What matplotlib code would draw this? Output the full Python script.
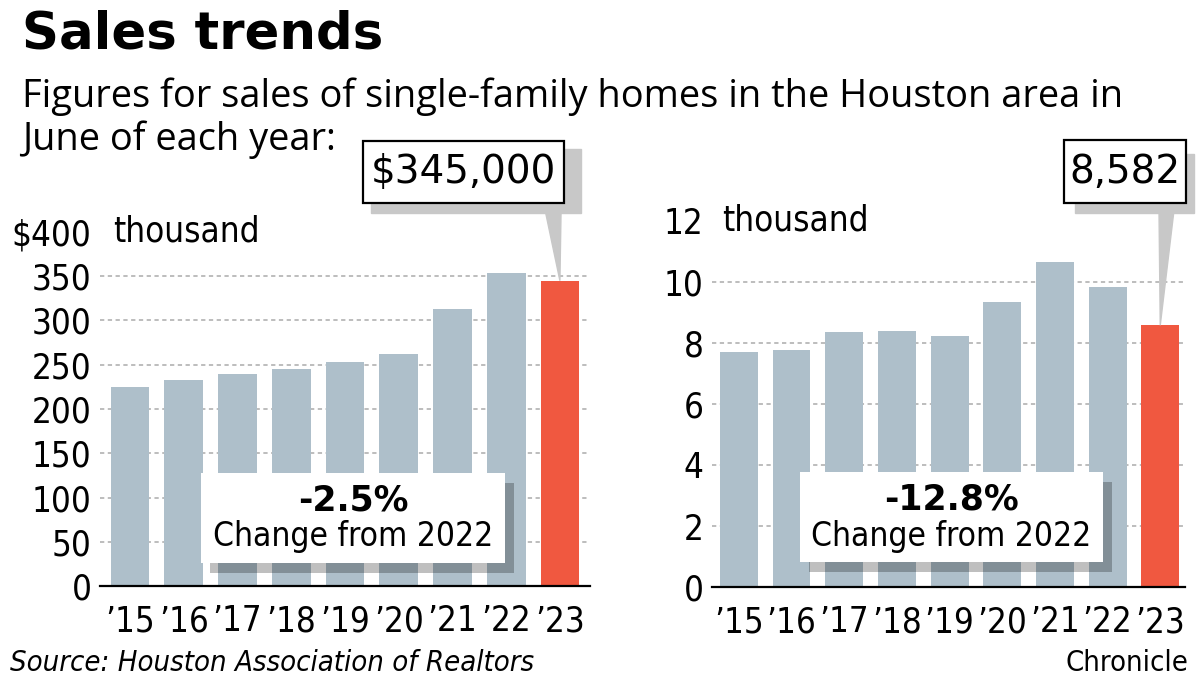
import matplotlib
matplotlib.use("Agg")
import matplotlib.pyplot as plt
import matplotlib.transforms as mtransforms
from matplotlib import font_manager
from matplotlib.patches import Rectangle, Polygon

# data
years = ["’15", "’16", "’17", "’18", "’19", "’20", "’21", "’22", "’23"]
prices = [225, 233, 239, 245, 253, 262, 313, 354, 345]          # $ thousand
sales = [7.70, 7.77, 8.36, 8.39, 8.23, 9.34, 10.66, 9.842, 8.582]  # thousand
price_ticks = [0, 50, 100, 150, 200, 250, 300, 350, 400]
price_labels = ["0", "50", "100", "150", "200", "250", "300", "350", "$400"]
sales_ticks = [0, 2, 4, 6, 8, 10, 12]
price_note = "$345,000"
sales_note = "8,582"
price_change = "-2.5%"
sales_change = "-12.8%"

GREY = "#aebfca"
RED = "#f05840"
SHADE = "#c8c8c8"

# narrow face for axis text (condensed DejaVu when no narrow family is around)
names = {f.name for f in font_manager.fontManager.ttflist}
NARROW = "Liberation Sans Narrow" if "Liberation Sans Narrow" in names else "DejaVu Sans"
COND = dict(family=NARROW, stretch="condensed")

fig = plt.figure(figsize=(12, 6.8), dpi=100)

# title and subtitle
fig.text(22 / 1200, 0.929, "Sales trends", family="DejaVu Sans", weight="bold",
         size=37, va="baseline")
fig.text(22 / 1200, 0.843, "Figures for sales of single-family homes in the Houston area in",
         family="Open Sans", size=27.4, va="baseline")
fig.text(22 / 1200, 0.779, "June of each year:", family="Open Sans", size=27.4,
         va="baseline")

fig.text(10 / 1200, 0.025, "Source: Houston Association of Realtors", style="italic",
         size=21, va="center", **COND)
fig.text(1188 / 1200, 0.025, "Chronicle", size=21, va="center", ha="right", **COND)


def panel(rect, values, ticks, labels, top, xlim, note, change, nbox, sbox, wedge, cbox,
          unit_x):
    ax = fig.add_axes(rect)
    x = range(len(values))
    colors = [GREY] * (len(values) - 1) + [RED]
    ax.bar(x, values, width=0.72, color=colors, zorder=2)
    ax.set_xlim(*xlim)
    ax.set_ylim(0, top)
    ax.set_yticks(ticks)
    ax.set_yticklabels(labels)
    ax.set_xticks(list(x))
    ax.set_xticklabels(years)
    for s in ["top", "right", "left"]:
        ax.spines[s].set_visible(False)
    ax.spines["bottom"].set_linewidth(1.6)
    ax.spines["bottom"].set_zorder(4)
    ax.tick_params(axis="both", length=0, labelsize=25)
    ax.tick_params(axis="x", pad=13)
    ax.tick_params(axis="y", pad=6)
    for lab in ax.get_xticklabels() + ax.get_yticklabels():
        lab.set_family(NARROW)
        lab.set_stretch("condensed")
    ax.grid(axis="y", color="#bdbdbd", linewidth=1.4, linestyle=(0, (2.2, 1.8)), zorder=1)
    ax.grid(axis="x", visible=False)
    ax.get_ygridlines()[0].set_visible(False)
    ax.get_ygridlines()[-1].set_visible(False)
    ax.set_facecolor("none")

    ax.text(unit_x, top, "thousand", transform=ax.get_yaxis_transform(), size=25,
            va="center", ha="left", **COND)

    # value callout: shadow, wedge to last bar, boxed label
    tip = ax.transLimits.transform((len(values) - 1, values[-1]))
    ax.add_patch(Rectangle((sbox[0], sbox[1]), sbox[2] - sbox[0], sbox[3] - sbox[1],
                           transform=ax.transAxes, color=SHADE, clip_on=False, zorder=5))
    ax.add_patch(Polygon([(wedge[0], sbox[1] + 0.01), (wedge[1], sbox[1] + 0.01), tip],
                         closed=True, transform=ax.transAxes, color=SHADE, clip_on=False,
                         zorder=5))
    ax.add_patch(Rectangle((nbox[0], nbox[1]), nbox[2] - nbox[0], nbox[3] - nbox[1],
                           transform=ax.transAxes, facecolor="white", edgecolor="black",
                           linewidth=1.6, clip_on=False, zorder=6))
    ax.text((nbox[0] + nbox[2]) / 2, (nbox[1] + nbox[3]) / 2, note, transform=ax.transAxes,
            family="DejaVu Sans", size=28, ha="center", va="center", zorder=7)

    # change box with translucent drop shadow
    off = ax.transAxes + mtransforms.ScaledTranslation(0.09, -0.10, fig.dpi_scale_trans)
    ax.add_patch(Rectangle((cbox[0], cbox[1]), cbox[2] - cbox[0], cbox[3] - cbox[1],
                           transform=off, facecolor="black", alpha=0.25, edgecolor="none",
                           clip_on=False, zorder=5))
    ax.add_patch(Rectangle((cbox[0], cbox[1]), cbox[2] - cbox[0], cbox[3] - cbox[1],
                           transform=ax.transAxes, facecolor="white", edgecolor="none",
                           clip_on=False, zorder=6))
    cx = (cbox[0] + cbox[2]) / 2
    h = cbox[3] - cbox[1]
    ax.text(cx, cbox[1] + h * 0.70, change, transform=ax.transAxes, family="DejaVu Sans",
            weight="bold", size=25, ha="center", va="center", zorder=7)
    ax.text(cx, cbox[1] + h * 0.29, "Change from 2022", transform=ax.transAxes, size=24,
            ha="center", va="center", zorder=7, **COND)
    return ax


panel([100 / 1200, 94 / 680, 490 / 1200, 354 / 680], prices, price_ticks, price_labels,
      400, (-0.56, 8.56), price_note, price_change,
      nbox=(0.537, 1.082, 0.947, 1.257), sbox=(0.553, 1.054, 0.982, 1.234),
      wedge=(0.908, 0.941), cbox=(0.206, 0.065, 0.827, 0.319), unit_x=0.027)

panel([712 / 1200, 93 / 680, 473 / 1200, 366 / 680], sales, sales_ticks,
      [str(t) for t in sales_ticks], 12, (-0.51, 8.47), sales_note, sales_change,
      nbox=(0.744, 1.049, 1.002, 1.221), sbox=(0.767, 1.022, 1.019, 1.183),
      wedge=(0.945, 0.977), cbox=(0.186, 0.068, 0.827, 0.314), unit_x=0.021)

fig.savefig("out.png", dpi=100)
